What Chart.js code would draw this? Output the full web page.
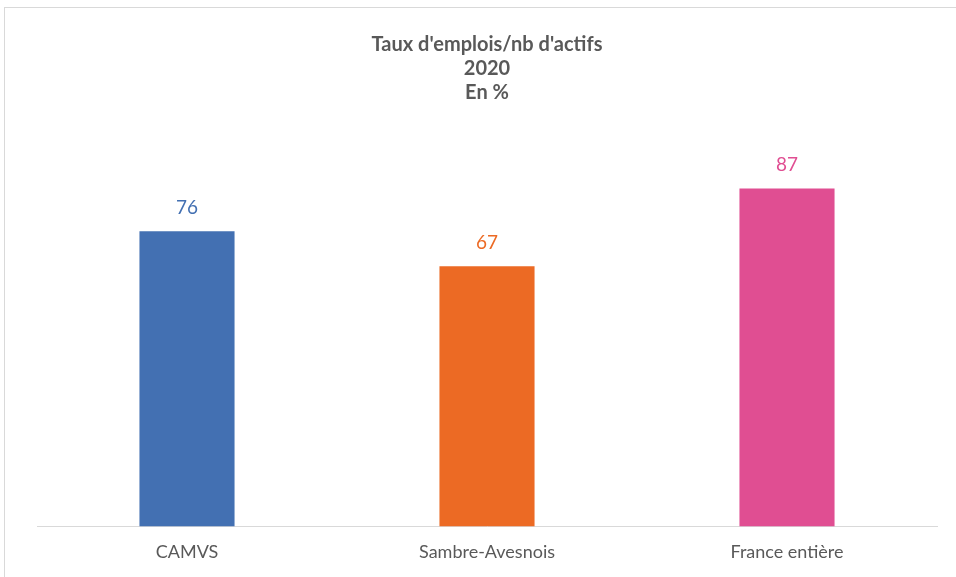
<!DOCTYPE html>
<html>
<head>
<meta charset="utf-8">
<script src="https://cdn.jsdelivr.net/npm/chart.js@4.4.1/dist/chart.umd.min.js"></script>
<style>
  html, body { margin: 0; padding: 0; background: #fff; overflow: hidden; }
  #wrap { position: relative; width: 956px; height: 577px; }
  #frame { position: absolute; left: 4px; top: 7px; width: 970px; height: 590px; border: 1px solid #d9d9d9; box-sizing: border-box; }
  #emplois { position: absolute; left: 0; top: 0; }
</style>
</head>
<body>
<div id="wrap">
  <div id="frame"></div>
  <canvas id="emplois" width="956" height="577"></canvas>
</div>
<script>
//--------------------------------------------- données
const territoires = ['CAMVS', 'Sambre-Avesnois', 'France entière'];
const tauxEmploi = [76, 67, 87];
const couleurs = ['#4370B2', '#EC6A24', '#E04E92'];
const titre = ["Taux d'emplois/nb d'actifs", '2020', 'En %'];

// valeurs au-dessus des barres
const etiquettes = {
  id: 'etiquettes',
  afterDatasetsDraw(chart) {
    const ctx = chart.ctx;
    const meta = chart.getDatasetMeta(0);
    ctx.save();
    ctx.font = '19px Lato, "Noto Sans", sans-serif';
    ctx.textAlign = 'center';
    ctx.textBaseline = 'bottom';
    meta.data.forEach((bar, i) => {
      ctx.fillStyle = couleurs[i];
      ctx.fillText(chart.data.datasets[0].data[i], bar.x, bar.y - 14);
    });
    ctx.restore();
  }
};

const dataEmplois = {
  labels: territoires,
  datasets: [{
    data: tauxEmploi,
    backgroundColor: couleurs,
    barPercentage: 0.317,
    categoryPercentage: 1
  }]
};

const configEmplois = {
  type: 'bar',
  data: dataEmplois,
  options: {
    responsive: false,
    animation: false,
    layout: { padding: { left: 37, right: 19, top: 0, bottom: -1 } },
    plugins: {
      legend: { display: false },
      tooltip: { enabled: false },
      title: {
        display: true,
        text: titre,
        color: '#595959',
        font: { family: 'Lato, "Noto Sans", sans-serif', size: 20, weight: 'bold', lineHeight: 1.2 },
        padding: { top: 33, bottom: 33 }
      }
    },
    scales: {
      x: {
        grid: { display: false, drawTicks: false },
        border: { display: true, color: '#d9d9d9', width: 1 },
        ticks: {
          color: '#595959',
          padding: 15,
          font: { family: 'Lato, "Noto Sans", sans-serif', size: 18 }
        }
      },
      y: {
        display: false,
        min: 0,
        max: 100
      }
    }
  },
  plugins: [etiquettes]
};

var chartEmplois = new Chart(
  document.getElementById('emplois'),
  configEmplois
);
</script>
</body>
</html>
